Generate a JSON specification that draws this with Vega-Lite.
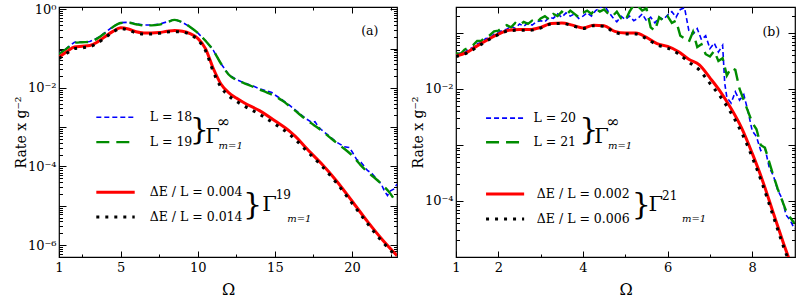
{
"$schema": "https://vega.github.io/schema/vega-lite/v6.json",
"padding": {"left": 13, "top": 2, "right": 0, "bottom": 0},
"spacing": 11,
"config": {
 "font": "DejaVu Serif",
 "view": {"stroke": "#000", "strokeWidth": 1.2},
 "text": {"font": "DejaVu Serif"},
 "axis": {"domain": false, "grid": false, "tickColor": "#000", "labelColor": "#000", "titleColor": "#000", "labelFont": "DejaVu Serif", "titleFont": "DejaVu Serif", "labelFontSize": 13, "titleFontSize": 14, "titleFontWeight": "normal", "tickWidth": 1, "labelOverlap": false, "labelFlush": false}
},
"datasets": {
 "aL18": [
  {"g":"curve","x":1,"y":7.41e-2},{"g":"curve","x":1.5,"y":1.02e-1},{"g":"curve","x":2,"y":1.45e-1},{"g":"curve","x":2.5,"y":1.48e-1},{"g":"curve","x":3,"y":1.51e-1},{"g":"curve","x":3.5,"y":1.86e-1},{"g":"curve","x":4,"y":2.57e-1},{"g":"curve","x":4.5,"y":3.63e-1},{"g":"curve","x":5,"y":4.57e-1},{"g":"curve","x":5.5,"y":4.68e-1},{"g":"curve","x":6,"y":4.27e-1},{"g":"curve","x":6.5,"y":3.98e-1},{"g":"curve","x":7,"y":3.98e-1},{"g":"curve","x":7.5,"y":4.17e-1},{"g":"curve","x":8,"y":4.79e-1},{"g":"curve","x":8.5,"y":5.50e-1},{"g":"curve","x":9,"y":4.68e-1},{"g":"curve","x":9.5,"y":3.55e-1},{"g":"curve","x":10,"y":2.51e-1},{"g":"curve","x":10.5,"y":1.58e-1},{"g":"curve","x":11,"y":9.12e-2},{"g":"curve","x":11.5,"y":4.17e-2},{"g":"curve","x":12,"y":2.19e-2},{"g":"curve","x":12.5,"y":1.62e-2},{"g":"curve","x":13,"y":1.35e-2},{"g":"curve","x":13.5,"y":1.15e-2},{"g":"curve","x":14,"y":9.55e-3},{"g":"curve","x":14.5,"y":8.32e-3},{"g":"curve","x":14.8,"y":7.59e-3},{"g":"curve","x":15,"y":6.61e-3},{"g":"curve","x":15.5,"y":4.90e-3},{"g":"curve","x":16,"y":3.47e-3},{"g":"curve","x":16.5,"y":2.40e-3},{"g":"curve","x":17,"y":1.66e-3},{"g":"curve","x":17.4,"y":1.32e-3},{"g":"curve","x":17.6,"y":1.38e-3},{"g":"curve","x":17.8,"y":1.05e-3},{"g":"curve","x":18,"y":8.71e-4},{"g":"curve","x":18.5,"y":6.03e-4},{"g":"curve","x":19,"y":4.17e-4},{"g":"curve","x":19.5,"y":3.16e-4},{"g":"curve","x":19.8,"y":3.02e-4},{"g":"curve","x":20,"y":2.40e-4},{"g":"curve","x":20.3,"y":1.51e-4},{"g":"curve","x":20.6,"y":1.26e-4},{"g":"curve","x":21,"y":7.94e-5},{"g":"curve","x":21.3,"y":6.61e-5},{"g":"curve","x":21.6,"y":4.79e-5},{"g":"curve","x":21.9,"y":3.55e-5},{"g":"curve","x":22.1,"y":2.40e-5},{"g":"curve","x":22.3,"y":1.82e-5},{"g":"curve","x":22.5,"y":2.40e-5},{"g":"curve","x":22.7,"y":2.63e-5},{"g":"curve","x":22.92,"y":3.55e-5},
  {"g":"key","x":3.42,"y":1.78e-3},{"g":"key","x":5.91,"y":1.78e-3}
 ],
 "aL19": [
  {"g":"curve","x":1,"y":7.24e-2},{"g":"curve","x":1.5,"y":1.00e-1},{"g":"curve","x":2,"y":1.41e-1},{"g":"curve","x":2.5,"y":1.45e-1},{"g":"curve","x":3,"y":1.48e-1},{"g":"curve","x":3.5,"y":1.82e-1},{"g":"curve","x":4,"y":2.51e-1},{"g":"curve","x":4.5,"y":3.55e-1},{"g":"curve","x":5,"y":4.47e-1},{"g":"curve","x":5.5,"y":4.57e-1},{"g":"curve","x":6,"y":4.17e-1},{"g":"curve","x":6.5,"y":3.89e-1},{"g":"curve","x":7,"y":3.89e-1},{"g":"curve","x":7.5,"y":4.07e-1},{"g":"curve","x":8,"y":4.68e-1},{"g":"curve","x":8.5,"y":5.37e-1},{"g":"curve","x":9,"y":4.68e-1},{"g":"curve","x":9.5,"y":3.55e-1},{"g":"curve","x":10,"y":2.51e-1},{"g":"curve","x":10.5,"y":1.58e-1},{"g":"curve","x":11,"y":9.12e-2},{"g":"curve","x":11.5,"y":4.17e-2},{"g":"curve","x":12,"y":2.19e-2},{"g":"curve","x":12.5,"y":1.58e-2},{"g":"curve","x":13,"y":1.32e-2},{"g":"curve","x":13.5,"y":1.10e-2},{"g":"curve","x":14,"y":9.12e-3},{"g":"curve","x":14.5,"y":7.59e-3},{"g":"curve","x":15,"y":6.17e-3},{"g":"curve","x":15.5,"y":4.68e-3},{"g":"curve","x":16,"y":3.31e-3},{"g":"curve","x":16.5,"y":2.29e-3},{"g":"curve","x":17,"y":1.58e-3},{"g":"curve","x":17.5,"y":1.15e-3},{"g":"curve","x":18,"y":8.32e-4},{"g":"curve","x":18.5,"y":5.75e-4},{"g":"curve","x":19,"y":3.98e-4},{"g":"curve","x":19.5,"y":2.82e-4},{"g":"curve","x":20,"y":1.91e-4},{"g":"curve","x":20.5,"y":1.15e-4},{"g":"curve","x":21,"y":7.24e-5},{"g":"curve","x":21.5,"y":5.01e-5},{"g":"curve","x":22,"y":3.31e-5},{"g":"curve","x":22.5,"y":2.00e-5},{"g":"curve","x":22.92,"y":1.10e-5},
  {"g":"key","x":3.42,"y":4.17e-4},{"g":"key","x":5.91,"y":4.17e-4}
 ],
 "aE004": [
  {"g":"curve","x":1,"y":6.03e-2},{"g":"curve","x":1.5,"y":8.32e-2},{"g":"curve","x":2,"y":1.10e-1},{"g":"curve","x":2.5,"y":1.15e-1},{"g":"curve","x":3,"y":1.20e-1},{"g":"curve","x":3.5,"y":1.48e-1},{"g":"curve","x":4,"y":2.04e-1},{"g":"curve","x":4.5,"y":2.75e-1},{"g":"curve","x":5,"y":3.39e-1},{"g":"curve","x":5.5,"y":3.16e-1},{"g":"curve","x":6,"y":2.69e-1},{"g":"curve","x":6.5,"y":2.51e-1},{"g":"curve","x":7,"y":2.51e-1},{"g":"curve","x":7.5,"y":2.57e-1},{"g":"curve","x":8,"y":2.75e-1},{"g":"curve","x":8.5,"y":2.88e-1},{"g":"curve","x":9,"y":2.75e-1},{"g":"curve","x":9.5,"y":2.40e-1},{"g":"curve","x":10,"y":1.82e-1},{"g":"curve","x":10.5,"y":1.00e-1},{"g":"curve","x":11,"y":3.16e-2},{"g":"curve","x":11.5,"y":1.26e-2},{"g":"curve","x":12,"y":7.59e-3},{"g":"curve","x":12.5,"y":5.50e-3},{"g":"curve","x":13,"y":4.17e-3},{"g":"curve","x":14,"y":2.63e-3},{"g":"curve","x":15,"y":1.45e-3},{"g":"curve","x":16,"y":7.59e-4},{"g":"curve","x":16.5,"y":5.01e-4},{"g":"curve","x":17,"y":3.02e-4},{"g":"curve","x":18,"y":1.20e-4},{"g":"curve","x":19,"y":4.27e-5},{"g":"curve","x":20,"y":1.32e-5},{"g":"curve","x":21,"y":3.98e-6},{"g":"curve","x":22,"y":1.32e-6},{"g":"curve","x":22.92,"y":5.37e-7},
  {"g":"key","x":3.42,"y":2.19e-5},{"g":"key","x":5.91,"y":2.19e-5}
 ],
 "aE014": [
  {"g":"curve","x":1,"y":5.62e-2},{"g":"curve","x":1.5,"y":7.59e-2},{"g":"curve","x":2,"y":1.00e-1},{"g":"curve","x":2.5,"y":1.05e-1},{"g":"curve","x":3,"y":1.12e-1},{"g":"curve","x":3.5,"y":1.38e-1},{"g":"curve","x":4,"y":1.91e-1},{"g":"curve","x":4.5,"y":2.63e-1},{"g":"curve","x":5,"y":3.24e-1},{"g":"curve","x":5.5,"y":2.95e-1},{"g":"curve","x":6,"y":2.51e-1},{"g":"curve","x":6.5,"y":2.34e-1},{"g":"curve","x":7,"y":2.34e-1},{"g":"curve","x":7.5,"y":2.45e-1},{"g":"curve","x":8,"y":2.63e-1},{"g":"curve","x":8.5,"y":2.69e-1},{"g":"curve","x":9,"y":2.63e-1},{"g":"curve","x":9.5,"y":2.29e-1},{"g":"curve","x":10,"y":1.66e-1},{"g":"curve","x":10.5,"y":8.91e-2},{"g":"curve","x":11,"y":2.63e-2},{"g":"curve","x":11.5,"y":1.05e-2},{"g":"curve","x":12,"y":6.31e-3},{"g":"curve","x":12.5,"y":4.57e-3},{"g":"curve","x":13,"y":3.47e-3},{"g":"curve","x":14,"y":2.14e-3},{"g":"curve","x":15,"y":1.20e-3},{"g":"curve","x":16,"y":6.31e-4},{"g":"curve","x":16.5,"y":4.17e-4},{"g":"curve","x":17,"y":2.63e-4},{"g":"curve","x":18,"y":1.07e-4},{"g":"curve","x":19,"y":3.80e-5},{"g":"curve","x":20,"y":1.17e-5},{"g":"curve","x":21,"y":3.55e-6},{"g":"curve","x":22,"y":1.17e-6},{"g":"curve","x":22.92,"y":5.01e-7},
  {"g":"key","x":3.42,"y":5.13e-6},{"g":"key","x":5.91,"y":5.13e-6}
 ],
 "aTxt": [
  {"k":"label","x":6.88,"y":1.78e-3,"t":"L = 18"},
  {"k":"label","x":6.88,"y":4.17e-4,"t":"L = 19"},
  {"k":"label","x":6.88,"y":2.19e-5,"t":"ΔE / L = 0.004"},
  {"k":"label","x":6.88,"y":5.13e-6,"t":"ΔE / L = 0.014"},
  {"k":"label","x":20.6,"y":0.285,"t":"(a)"},
  {"k":"brace","x":10.1,"y":8.71e-4,"t":"}"},
  {"k":"brace","x":13.55,"y":1.07e-5,"t":"}"},
  {"k":"gamma","x":10.95,"y":5.62e-4,"t":"Γ"},
  {"k":"gamma","x":14.65,"y":1.05e-5,"t":"Γ"},
  {"k":"inf","x":11.65,"y":1.35e-3,"t":"∞"},
  {"k":"sup","x":15.55,"y":1.86e-5,"t":"19"},
  {"k":"sub","x":11.35,"y":3.31e-4,"t":"m=1"},
  {"k":"sub","x":15.8,"y":4.57e-6,"t":"m=1"}
 ],
 "bL20": [
  {"g":"curve","x":1.0,"y":4.17e-2},{"g":"curve","x":1.1,"y":4.37e-2},{"g":"curve","x":1.2,"y":4.47e-2},{"g":"curve","x":1.3,"y":5.13e-2},{"g":"curve","x":1.4,"y":5.50e-2},{"g":"curve","x":1.5,"y":6.46e-2},{"g":"curve","x":1.6,"y":6.76e-2},{"g":"curve","x":1.7,"y":7.94e-2},{"g":"curve","x":1.8,"y":8.13e-2},{"g":"curve","x":1.9,"y":9.55e-2},
  {"g":"curve","x":2.0,"y":1.02e-1},{"g":"curve","x":2.1,"y":1.12e-1},{"g":"curve","x":2.2,"y":1.17e-1},{"g":"curve","x":2.3,"y":1.32e-1},{"g":"curve","x":2.4,"y":1.20e-1},{"g":"curve","x":2.5,"y":1.45e-1},{"g":"curve","x":2.6,"y":1.32e-1},{"g":"curve","x":2.7,"y":1.51e-1},{"g":"curve","x":2.8,"y":1.38e-1},{"g":"curve","x":2.9,"y":1.58e-1},
  {"g":"curve","x":3.0,"y":1.66e-1},{"g":"curve","x":3.1,"y":1.58e-1},{"g":"curve","x":3.2,"y":1.91e-1},{"g":"curve","x":3.3,"y":1.82e-1},{"g":"curve","x":3.4,"y":2.19e-1},{"g":"curve","x":3.5,"y":1.91e-1},{"g":"curve","x":3.6,"y":2.29e-1},{"g":"curve","x":3.7,"y":2.00e-1},{"g":"curve","x":3.8,"y":2.19e-1},{"g":"curve","x":3.9,"y":1.82e-1},
  {"g":"curve","x":4.0,"y":2.00e-1},{"g":"curve","x":4.1,"y":2.29e-1},{"g":"curve","x":4.2,"y":2.00e-1},{"g":"curve","x":4.3,"y":2.51e-1},{"g":"curve","x":4.4,"y":2.82e-1},{"g":"curve","x":4.5,"y":3.16e-1},{"g":"curve","x":4.6,"y":2.40e-1},{"g":"curve","x":4.7,"y":1.91e-1},{"g":"curve","x":4.8,"y":1.58e-1},{"g":"curve","x":4.9,"y":2.00e-1},
  {"g":"curve","x":5.0,"y":1.74e-1},{"g":"curve","x":5.1,"y":2.00e-1},{"g":"curve","x":5.2,"y":1.66e-1},{"g":"curve","x":5.3,"y":1.82e-1},{"g":"curve","x":5.4,"y":2.19e-1},{"g":"curve","x":5.5,"y":1.66e-1},{"g":"curve","x":5.6,"y":1.91e-1},{"g":"curve","x":5.7,"y":1.51e-1},{"g":"curve","x":5.8,"y":1.91e-1},{"g":"curve","x":5.9,"y":1.74e-1},
  {"g":"curve","x":6.0,"y":2.09e-1},{"g":"curve","x":6.1,"y":2.40e-1},{"g":"curve","x":6.2,"y":1.91e-1},{"g":"curve","x":6.3,"y":2.63e-1},{"g":"curve","x":6.4,"y":2.82e-1},{"g":"curve","x":6.5,"y":1.12e-1},{"g":"curve","x":6.6,"y":9.55e-2},{"g":"curve","x":6.7,"y":1.20e-1},{"g":"curve","x":6.8,"y":7.59e-2},{"g":"curve","x":6.9,"y":8.91e-2},
  {"g":"curve","x":7.0,"y":5.25e-2},{"g":"curve","x":7.1,"y":6.61e-2},{"g":"curve","x":7.2,"y":4.57e-2},{"g":"curve","x":7.3,"y":6.03e-2},{"g":"curve","x":7.35,"y":1.26e-2},{"g":"curve","x":7.4,"y":7.08e-3},{"g":"curve","x":7.5,"y":5.62e-3},{"g":"curve","x":7.6,"y":8.91e-3},{"g":"curve","x":7.7,"y":6.31e-3},{"g":"curve","x":7.8,"y":7.94e-3},{"g":"curve","x":7.9,"y":3.98e-3},
  {"g":"curve","x":8.0,"y":1.78e-3},{"g":"curve","x":8.1,"y":1.41e-3},{"g":"curve","x":8.2,"y":7.94e-4},{"g":"curve","x":8.3,"y":8.91e-4},{"g":"curve","x":8.4,"y":3.98e-4},{"g":"curve","x":8.5,"y":2.82e-4},{"g":"curve","x":8.6,"y":1.58e-4},{"g":"curve","x":8.7,"y":1.12e-4},{"g":"curve","x":8.8,"y":5.62e-5},{"g":"curve","x":8.9,"y":4.47e-5},{"g":"curve","x":9.0,"y":3.16e-5},
  {"g":"key","x":1.71,"y":3.02e-3},{"g":"key","x":2.61,"y":3.02e-3}
 ],
 "bL21": [
  {"g":"curve","x":1.0,"y":4.37e-2},{"g":"curve","x":1.1,"y":4.17e-2},{"g":"curve","x":1.2,"y":5.01e-2},{"g":"curve","x":1.3,"y":5.50e-2},{"g":"curve","x":1.4,"y":6.03e-2},{"g":"curve","x":1.5,"y":7.24e-2},{"g":"curve","x":1.6,"y":7.24e-2},{"g":"curve","x":1.7,"y":8.71e-2},{"g":"curve","x":1.8,"y":9.12e-2},{"g":"curve","x":1.9,"y":1.07e-1},
  {"g":"curve","x":2.0,"y":1.10e-1},{"g":"curve","x":2.1,"y":1.26e-1},{"g":"curve","x":2.2,"y":1.38e-1},{"g":"curve","x":2.3,"y":1.26e-1},{"g":"curve","x":2.4,"y":1.51e-1},{"g":"curve","x":2.5,"y":1.38e-1},{"g":"curve","x":2.6,"y":1.58e-1},{"g":"curve","x":2.7,"y":1.45e-1},{"g":"curve","x":2.8,"y":1.66e-1},{"g":"curve","x":2.9,"y":1.51e-1},
  {"g":"curve","x":3.0,"y":1.82e-1},{"g":"curve","x":3.1,"y":2.00e-1},{"g":"curve","x":3.2,"y":1.74e-1},{"g":"curve","x":3.3,"y":2.19e-1},{"g":"curve","x":3.4,"y":2.00e-1},{"g":"curve","x":3.5,"y":2.40e-1},{"g":"curve","x":3.6,"y":2.09e-1},{"g":"curve","x":3.7,"y":2.51e-1},{"g":"curve","x":3.8,"y":2.19e-1},{"g":"curve","x":3.9,"y":1.91e-1},
  {"g":"curve","x":4.0,"y":2.29e-1},{"g":"curve","x":4.1,"y":2.51e-1},{"g":"curve","x":4.2,"y":2.19e-1},{"g":"curve","x":4.3,"y":2.75e-1},{"g":"curve","x":4.4,"y":2.40e-1},{"g":"curve","x":4.5,"y":2.63e-1},{"g":"curve","x":4.6,"y":2.19e-1},{"g":"curve","x":4.7,"y":2.00e-1},{"g":"curve","x":4.8,"y":2.40e-1},{"g":"curve","x":4.9,"y":1.82e-1},
  {"g":"curve","x":5.0,"y":1.66e-1},{"g":"curve","x":5.1,"y":2.40e-1},{"g":"curve","x":5.2,"y":3.16e-1},{"g":"curve","x":5.3,"y":3.02e-1},{"g":"curve","x":5.4,"y":2.51e-1},{"g":"curve","x":5.5,"y":2.75e-1},{"g":"curve","x":5.6,"y":1.26e-1},{"g":"curve","x":5.7,"y":1.10e-1},{"g":"curve","x":5.8,"y":1.91e-1},{"g":"curve","x":5.9,"y":1.66e-1},
  {"g":"curve","x":6.0,"y":2.00e-1},{"g":"curve","x":6.1,"y":1.51e-1},{"g":"curve","x":6.2,"y":1.66e-1},{"g":"curve","x":6.3,"y":8.91e-2},{"g":"curve","x":6.4,"y":7.94e-2},{"g":"curve","x":6.5,"y":6.92e-2},{"g":"curve","x":6.6,"y":1.05e-1},{"g":"curve","x":6.7,"y":5.62e-2},{"g":"curve","x":6.8,"y":6.31e-2},{"g":"curve","x":6.9,"y":4.17e-2},
  {"g":"curve","x":7.0,"y":3.80e-2},{"g":"curve","x":7.1,"y":4.79e-2},{"g":"curve","x":7.2,"y":3.16e-2},{"g":"curve","x":7.3,"y":3.55e-2},{"g":"curve","x":7.4,"y":1.74e-2},{"g":"curve","x":7.5,"y":2.40e-2},{"g":"curve","x":7.6,"y":2.19e-2},{"g":"curve","x":7.7,"y":1.00e-2},{"g":"curve","x":7.8,"y":6.31e-3},{"g":"curve","x":7.9,"y":3.98e-3},
  {"g":"curve","x":8.0,"y":2.51e-3},{"g":"curve","x":8.1,"y":1.91e-3},{"g":"curve","x":8.2,"y":1.00e-3},{"g":"curve","x":8.3,"y":8.91e-4},{"g":"curve","x":8.4,"y":5.01e-4},{"g":"curve","x":8.5,"y":2.82e-4},{"g":"curve","x":8.6,"y":1.66e-4},{"g":"curve","x":8.7,"y":1.05e-4},{"g":"curve","x":8.8,"y":6.61e-5},{"g":"curve","x":8.9,"y":5.01e-5},{"g":"curve","x":9.0,"y":3.98e-5},
  {"g":"key","x":1.71,"y":1.12e-3},{"g":"key","x":2.61,"y":1.12e-3}
 ],
 "bE002": [
  {"g":"curve","x":1,"y":3.89e-2},{"g":"curve","x":1.25,"y":4.47e-2},{"g":"curve","x":1.5,"y":5.89e-2},{"g":"curve","x":1.75,"y":7.59e-2},{"g":"curve","x":2,"y":9.55e-2},{"g":"curve","x":2.25,"y":1.12e-1},{"g":"curve","x":2.5,"y":1.15e-1},{"g":"curve","x":2.75,"y":1.15e-1},{"g":"curve","x":3,"y":1.26e-1},{"g":"curve","x":3.25,"y":1.48e-1},{"g":"curve","x":3.5,"y":1.51e-1},{"g":"curve","x":3.75,"y":1.38e-1},{"g":"curve","x":4,"y":1.23e-1},{"g":"curve","x":4.25,"y":1.38e-1},{"g":"curve","x":4.5,"y":1.35e-1},{"g":"curve","x":4.75,"y":1.07e-1},{"g":"curve","x":5,"y":1.00e-1},{"g":"curve","x":5.25,"y":1.00e-1},{"g":"curve","x":5.5,"y":8.32e-2},{"g":"curve","x":5.75,"y":6.46e-2},{"g":"curve","x":6,"y":5.75e-2},{"g":"curve","x":6.25,"y":4.68e-2},{"g":"curve","x":6.5,"y":3.39e-2},{"g":"curve","x":6.75,"y":2.69e-2},{"g":"curve","x":7,"y":1.58e-2},{"g":"curve","x":7.25,"y":8.91e-3},{"g":"curve","x":7.5,"y":4.47e-3},{"g":"curve","x":7.75,"y":2.00e-3},{"g":"curve","x":8,"y":7.08e-4},{"g":"curve","x":8.25,"y":2.24e-4},{"g":"curve","x":8.5,"y":6.03e-5},{"g":"curve","x":8.75,"y":1.66e-5},{"g":"curve","x":8.9,"y":7.94e-6},
  {"g":"key","x":1.71,"y":1.33e-4},{"g":"key","x":2.61,"y":1.33e-4}
 ],
 "bE006": [
  {"g":"curve","x":1,"y":3.80e-2},{"g":"curve","x":1.25,"y":4.37e-2},{"g":"curve","x":1.5,"y":5.62e-2},{"g":"curve","x":1.75,"y":7.41e-2},{"g":"curve","x":2,"y":9.33e-2},{"g":"curve","x":2.25,"y":1.10e-1},{"g":"curve","x":2.5,"y":1.12e-1},{"g":"curve","x":2.75,"y":1.12e-1},{"g":"curve","x":3,"y":1.23e-1},{"g":"curve","x":3.25,"y":1.45e-1},{"g":"curve","x":3.5,"y":1.48e-1},{"g":"curve","x":3.75,"y":1.35e-1},{"g":"curve","x":4,"y":1.20e-1},{"g":"curve","x":4.25,"y":1.35e-1},{"g":"curve","x":4.5,"y":1.32e-1},{"g":"curve","x":4.75,"y":1.02e-1},{"g":"curve","x":5,"y":9.55e-2},{"g":"curve","x":5.25,"y":9.55e-2},{"g":"curve","x":5.5,"y":7.94e-2},{"g":"curve","x":5.75,"y":6.17e-2},{"g":"curve","x":6,"y":5.37e-2},{"g":"curve","x":6.25,"y":4.27e-2},{"g":"curve","x":6.5,"y":3.02e-2},{"g":"curve","x":6.75,"y":2.19e-2},{"g":"curve","x":7,"y":1.26e-2},{"g":"curve","x":7.25,"y":7.24e-3},{"g":"curve","x":7.5,"y":3.72e-3},{"g":"curve","x":7.75,"y":1.66e-3},{"g":"curve","x":8,"y":6.03e-4},{"g":"curve","x":8.25,"y":1.91e-4},{"g":"curve","x":8.5,"y":5.25e-5},{"g":"curve","x":8.75,"y":1.45e-5},{"g":"curve","x":8.88,"y":7.94e-6},
  {"g":"key","x":1.71,"y":4.79e-5},{"g":"key","x":2.61,"y":4.79e-5}
 ],
 "bTxt": [
  {"k":"label","x":2.83,"y":3.02e-3,"t":"L = 20"},
  {"k":"label","x":2.83,"y":1.12e-3,"t":"L = 21"},
  {"k":"label","x":2.91,"y":1.33e-4,"t":"ΔE / L = 0.002"},
  {"k":"label","x":2.91,"y":4.79e-5,"t":"ΔE / L = 0.006"},
  {"k":"label","x":8.24,"y":0.102,"t":"(b)"},
  {"k":"brace","x":4.14,"y":1.86e-3,"t":"}"},
  {"k":"brace","x":5.38,"y":8.32e-5,"t":"}"},
  {"k":"gamma","x":4.44,"y":1.38e-3,"t":"Γ"},
  {"k":"gamma","x":5.72,"y":8.51e-5,"t":"Γ"},
  {"k":"inf","x":4.7,"y":2.57e-3,"t":"∞"},
  {"k":"sup","x":6.05,"y":1.23e-4,"t":"21"},
  {"k":"sub","x":4.59,"y":9.55e-4,"t":"m=1"},
  {"k":"sub","x":6.34,"y":4.79e-5,"t":"m=1"}
 ]
},
"hconcat": [
 {
  "width": 338, "height": 250,
  "resolve": {"axis": {"x": "independent", "y": "independent"}},
  "layer": [
   {"data": {"name": "aL18"}, "mark": {"type": "line", "color": "#0000ff", "strokeWidth": 1.6, "strokeDash": [5, 3], "clip": true},
    "encoding": {
     "x": {"field": "x", "type": "quantitative", "scale": {"domain": [1, 22.92], "nice": false, "zero": false}, "axis": {"orient": "bottom", "values": [1, 5, 10, 15, 20], "tickSize": -6, "labelPadding": 10, "title": "Ω", "titleFontSize": 16, "titlePadding": 4, "minExtent": 20, "maxExtent": 20}},
     "y": {"field": "y", "type": "quantitative", "scale": {"type": "log", "domain": [4.95e-7, 1.145], "nice": false}, "axis": {"orient": "left", "values": [1e-6, 1e-5, 1e-4, 1e-3, 1e-2, 1e-1, 1], "tickSize": -7, "labelPadding": 10, "labelExpr": "round(log(datum.value)/LN10) == 0 ? '10⁰' : round(log(datum.value)/LN10) == -2 ? '10⁻²' : round(log(datum.value)/LN10) == -4 ? '10⁻⁴' : round(log(datum.value)/LN10) == -6 ? '10⁻⁶' : ''", "title": "Rate x g⁻²", "titlePadding": 3, "minExtent": 28, "maxExtent": 28}},
     "detail": {"field": "g"}
    }},
   {"data": {"name": "aL19"}, "mark": {"type": "line", "color": "#008c00", "strokeWidth": 2.4, "strokeDash": [13, 7], "clip": true, "interpolate": "monotone"},
    "encoding": {
     "x": {"field": "x", "type": "quantitative", "scale": {"domain": [1, 22.92], "nice": false, "zero": false}, "axis": {"orient": "top", "values": [1, 5, 10, 15, 20], "tickSize": -6, "labels": false, "title": null}},
     "y": {"field": "y", "type": "quantitative", "scale": {"type": "log", "domain": [4.95e-7, 1.145], "nice": false}, "axis": {"orient": "right", "values": [1e-6, 1e-5, 1e-4, 1e-3, 1e-2, 1e-1, 1], "tickSize": -7, "labels": false, "title": null}},
     "detail": {"field": "g"}
    }},
   {"data": {"name": "aE004"}, "mark": {"type": "line", "color": "#ff0000", "strokeWidth": 3, "clip": true, "interpolate": "monotone"},
    "encoding": {
     "x": {"field": "x", "type": "quantitative", "scale": {"domain": [1, 22.92], "nice": false, "zero": false}, "axis": {"orient": "bottom", "values": [2.5, 7.5, 12.5, 17.5, 22.5], "tickSize": -3, "labels": false, "title": null}},
     "y": {"field": "y", "type": "quantitative", "scale": {"type": "log", "domain": [4.95e-7, 1.145], "nice": false}, "axis": {"orient": "left", "values": [5e-7,6e-7,7e-7,8e-7,9e-7,2e-6,3e-6,4e-6,5e-6,6e-6,7e-6,8e-6,9e-6,2e-5,3e-5,4e-5,5e-5,6e-5,7e-5,8e-5,9e-5,2e-4,3e-4,4e-4,5e-4,6e-4,7e-4,8e-4,9e-4,2e-3,3e-3,4e-3,5e-3,6e-3,7e-3,8e-3,9e-3,2e-2,3e-2,4e-2,5e-2,6e-2,7e-2,8e-2,9e-2,0.2,0.3,0.4,0.5,0.6,0.7,0.8,0.9], "tickSize": -3.5, "labels": false, "title": null}},
     "detail": {"field": "g"}
    }},
   {"data": {"name": "aE014"}, "mark": {"type": "line", "color": "#000000", "strokeWidth": 3, "strokeDash": [3, 6], "clip": true, "interpolate": "monotone"},
    "encoding": {
     "x": {"field": "x", "type": "quantitative", "scale": {"domain": [1, 22.92], "nice": false, "zero": false}, "axis": {"orient": "top", "values": [2.5, 7.5, 12.5, 17.5, 22.5], "tickSize": -3, "labels": false, "title": null}},
     "y": {"field": "y", "type": "quantitative", "scale": {"type": "log", "domain": [4.95e-7, 1.145], "nice": false}, "axis": {"orient": "right", "values": [5e-7,6e-7,7e-7,8e-7,9e-7,2e-6,3e-6,4e-6,5e-6,6e-6,7e-6,8e-6,9e-6,2e-5,3e-5,4e-5,5e-5,6e-5,7e-5,8e-5,9e-5,2e-4,3e-4,4e-4,5e-4,6e-4,7e-4,8e-4,9e-4,2e-3,3e-3,4e-3,5e-3,6e-3,7e-3,8e-3,9e-3,2e-2,3e-2,4e-2,5e-2,6e-2,7e-2,8e-2,9e-2,0.2,0.3,0.4,0.5,0.6,0.7,0.8,0.9], "tickSize": -3.5, "labels": false, "title": null}},
     "detail": {"field": "g"}
    }},
   {"data": {"name": "aTxt"}, "transform": [{"filter": "datum.k == 'label'"}], "mark": {"type": "text", "font": "DejaVu Serif", "fontSize": 12.5, "align": "left", "baseline": "middle"},
    "encoding": {"x": {"field": "x", "type": "quantitative", "axis": null}, "y": {"field": "y", "type": "quantitative", "scale": {"type": "log"}, "axis": null}, "text": {"field": "t"}}},
   {"data": {"name": "aTxt"}, "transform": [{"filter": "datum.k == 'brace'"}], "mark": {"type": "text", "font": "DejaVu Serif", "fontSize": 30, "align": "center", "baseline": "middle"},
    "encoding": {"x": {"field": "x", "type": "quantitative", "axis": null}, "y": {"field": "y", "type": "quantitative", "scale": {"type": "log"}, "axis": null}, "text": {"field": "t"}}},
   {"data": {"name": "aTxt"}, "transform": [{"filter": "datum.k == 'gamma'"}], "mark": {"type": "text", "font": "DejaVu Serif", "fontSize": 21, "align": "center", "baseline": "middle"},
    "encoding": {"x": {"field": "x", "type": "quantitative", "axis": null}, "y": {"field": "y", "type": "quantitative", "scale": {"type": "log"}, "axis": null}, "text": {"field": "t"}}},
   {"data": {"name": "aTxt"}, "transform": [{"filter": "datum.k == 'inf'"}], "mark": {"type": "text", "font": "DejaVu Serif", "fontSize": 16, "align": "center", "baseline": "middle"},
    "encoding": {"x": {"field": "x", "type": "quantitative", "axis": null}, "y": {"field": "y", "type": "quantitative", "scale": {"type": "log"}, "axis": null}, "text": {"field": "t"}}},
   {"data": {"name": "aTxt"}, "transform": [{"filter": "datum.k == 'sup'"}], "mark": {"type": "text", "font": "DejaVu Serif", "fontSize": 12, "align": "center", "baseline": "middle"},
    "encoding": {"x": {"field": "x", "type": "quantitative", "axis": null}, "y": {"field": "y", "type": "quantitative", "scale": {"type": "log"}, "axis": null}, "text": {"field": "t"}}},
   {"data": {"name": "aTxt"}, "transform": [{"filter": "datum.k == 'sub'"}], "mark": {"type": "text", "font": "DejaVu Serif", "fontSize": 10, "fontStyle": "italic", "align": "left", "baseline": "middle"},
    "encoding": {"x": {"field": "x", "type": "quantitative", "axis": null}, "y": {"field": "y", "type": "quantitative", "scale": {"type": "log"}, "axis": null}, "text": {"field": "t"}}}
  ]
 },
 {
  "width": 339, "height": 250,
  "resolve": {"axis": {"x": "independent", "y": "independent"}},
  "layer": [
   {"data": {"name": "bL20"}, "mark": {"type": "line", "color": "#0000ff", "strokeWidth": 1.6, "strokeDash": [5, 3], "clip": true},
    "encoding": {
     "x": {"field": "x", "type": "quantitative", "scale": {"domain": [1, 9.01], "nice": false, "zero": false}, "axis": {"orient": "bottom", "values": [1, 2, 4, 6, 8], "tickSize": -6, "labelPadding": 10, "title": "Ω", "titleFontSize": 16, "titlePadding": 4, "minExtent": 20, "maxExtent": 20}},
     "y": {"field": "y", "type": "quantitative", "scale": {"type": "log", "domain": [1e-5, 0.291], "nice": false}, "axis": {"orient": "left", "values": [1e-5, 1e-4, 1e-3, 1e-2, 1e-1], "tickSize": -7, "labelPadding": 10, "labelExpr": "round(log(datum.value)/LN10) == -2 ? '10⁻²' : round(log(datum.value)/LN10) == -4 ? '10⁻⁴' : ''", "title": "Rate x g⁻²", "titlePadding": 3, "minExtent": 28, "maxExtent": 28}},
     "detail": {"field": "g"}
    }},
   {"data": {"name": "bL21"}, "mark": {"type": "line", "color": "#008c00", "strokeWidth": 2.4, "strokeDash": [13, 7], "clip": true},
    "encoding": {
     "x": {"field": "x", "type": "quantitative", "scale": {"domain": [1, 9.01], "nice": false, "zero": false}, "axis": {"orient": "top", "values": [1, 2, 4, 6, 8], "tickSize": -6, "labels": false, "title": null}},
     "y": {"field": "y", "type": "quantitative", "scale": {"type": "log", "domain": [1e-5, 0.291], "nice": false}, "axis": {"orient": "right", "values": [1e-5, 1e-4, 1e-3, 1e-2, 1e-1], "tickSize": -7, "labels": false, "title": null}},
     "detail": {"field": "g"}
    }},
   {"data": {"name": "bE002"}, "mark": {"type": "line", "color": "#ff0000", "strokeWidth": 3, "clip": true, "interpolate": "monotone"},
    "encoding": {
     "x": {"field": "x", "type": "quantitative", "scale": {"domain": [1, 9.01], "nice": false, "zero": false}, "axis": {"orient": "bottom", "values": [3, 5, 7], "tickSize": -3, "labels": false, "title": null}},
     "y": {"field": "y", "type": "quantitative", "scale": {"type": "log", "domain": [1e-5, 0.291], "nice": false}, "axis": {"orient": "left", "values": [2e-5,3e-5,4e-5,5e-5,6e-5,7e-5,8e-5,9e-5,2e-4,3e-4,4e-4,5e-4,6e-4,7e-4,8e-4,9e-4,2e-3,3e-3,4e-3,5e-3,6e-3,7e-3,8e-3,9e-3,2e-2,3e-2,4e-2,5e-2,6e-2,7e-2,8e-2,9e-2,0.2], "tickSize": -3.5, "labels": false, "title": null}},
     "detail": {"field": "g"}
    }},
   {"data": {"name": "bE006"}, "mark": {"type": "line", "color": "#000000", "strokeWidth": 3, "strokeDash": [3, 6], "clip": true, "interpolate": "monotone"},
    "encoding": {
     "x": {"field": "x", "type": "quantitative", "scale": {"domain": [1, 9.01], "nice": false, "zero": false}, "axis": {"orient": "top", "values": [3, 5, 7], "tickSize": -3, "labels": false, "title": null}},
     "y": {"field": "y", "type": "quantitative", "scale": {"type": "log", "domain": [1e-5, 0.291], "nice": false}, "axis": {"orient": "right", "values": [2e-5,3e-5,4e-5,5e-5,6e-5,7e-5,8e-5,9e-5,2e-4,3e-4,4e-4,5e-4,6e-4,7e-4,8e-4,9e-4,2e-3,3e-3,4e-3,5e-3,6e-3,7e-3,8e-3,9e-3,2e-2,3e-2,4e-2,5e-2,6e-2,7e-2,8e-2,9e-2,0.2], "tickSize": -3.5, "labels": false, "title": null}},
     "detail": {"field": "g"}
    }},
   {"data": {"name": "bTxt"}, "transform": [{"filter": "datum.k == 'label'"}], "mark": {"type": "text", "font": "DejaVu Serif", "fontSize": 12.5, "align": "left", "baseline": "middle"},
    "encoding": {"x": {"field": "x", "type": "quantitative", "axis": null}, "y": {"field": "y", "type": "quantitative", "scale": {"type": "log"}, "axis": null}, "text": {"field": "t"}}},
   {"data": {"name": "bTxt"}, "transform": [{"filter": "datum.k == 'brace'"}], "mark": {"type": "text", "font": "DejaVu Serif", "fontSize": 30, "align": "center", "baseline": "middle"},
    "encoding": {"x": {"field": "x", "type": "quantitative", "axis": null}, "y": {"field": "y", "type": "quantitative", "scale": {"type": "log"}, "axis": null}, "text": {"field": "t"}}},
   {"data": {"name": "bTxt"}, "transform": [{"filter": "datum.k == 'gamma'"}], "mark": {"type": "text", "font": "DejaVu Serif", "fontSize": 21, "align": "center", "baseline": "middle"},
    "encoding": {"x": {"field": "x", "type": "quantitative", "axis": null}, "y": {"field": "y", "type": "quantitative", "scale": {"type": "log"}, "axis": null}, "text": {"field": "t"}}},
   {"data": {"name": "bTxt"}, "transform": [{"filter": "datum.k == 'inf'"}], "mark": {"type": "text", "font": "DejaVu Serif", "fontSize": 16, "align": "center", "baseline": "middle"},
    "encoding": {"x": {"field": "x", "type": "quantitative", "axis": null}, "y": {"field": "y", "type": "quantitative", "scale": {"type": "log"}, "axis": null}, "text": {"field": "t"}}},
   {"data": {"name": "bTxt"}, "transform": [{"filter": "datum.k == 'sup'"}], "mark": {"type": "text", "font": "DejaVu Serif", "fontSize": 12, "align": "center", "baseline": "middle"},
    "encoding": {"x": {"field": "x", "type": "quantitative", "axis": null}, "y": {"field": "y", "type": "quantitative", "scale": {"type": "log"}, "axis": null}, "text": {"field": "t"}}},
   {"data": {"name": "bTxt"}, "transform": [{"filter": "datum.k == 'sub'"}], "mark": {"type": "text", "font": "DejaVu Serif", "fontSize": 10, "fontStyle": "italic", "align": "left", "baseline": "middle"},
    "encoding": {"x": {"field": "x", "type": "quantitative", "axis": null}, "y": {"field": "y", "type": "quantitative", "scale": {"type": "log"}, "axis": null}, "text": {"field": "t"}}}
  ]
 }
]
}
